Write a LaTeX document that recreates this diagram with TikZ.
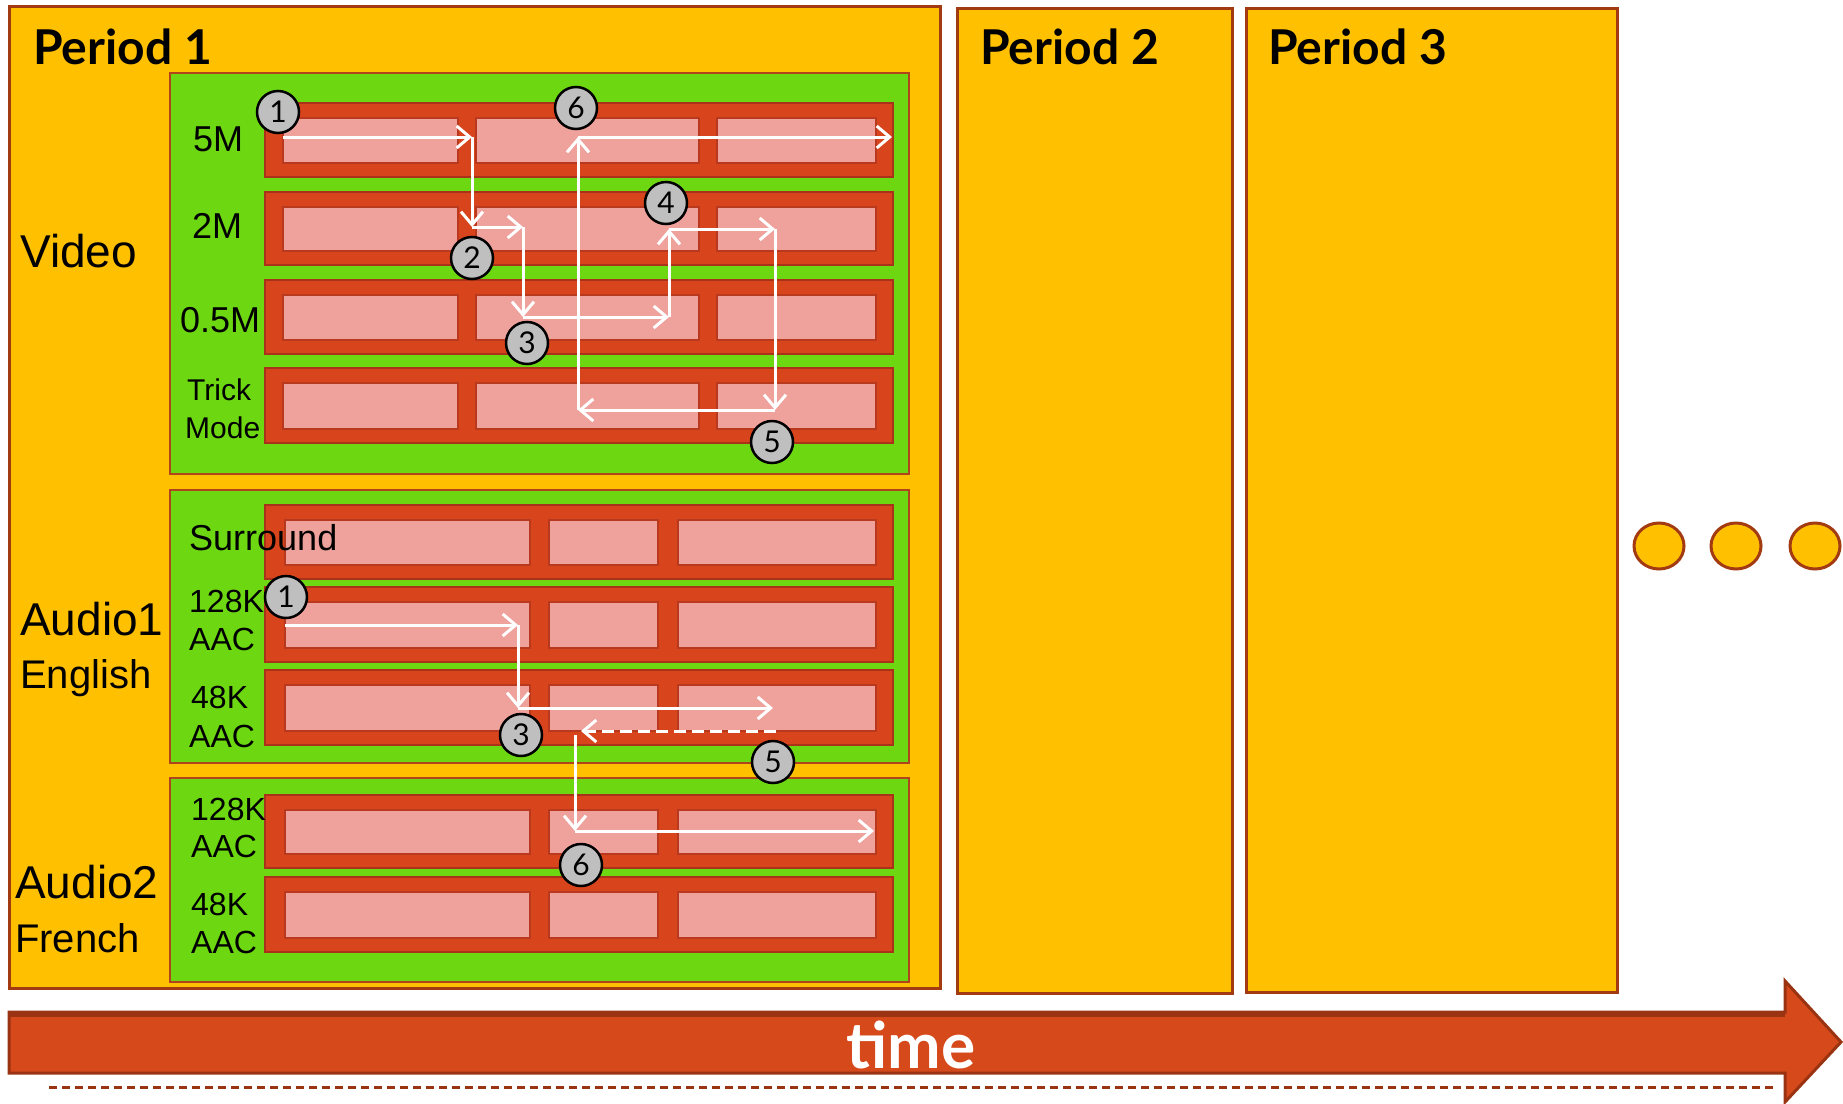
\documentclass[tikz,border=0pt]{standalone}
\usepackage{fontspec}
\setmainfont{Liberation Sans}
\newfontfamily\lato{Lato}
\usetikzlibrary{arrows.meta}
\definecolor{gold}{HTML}{FFC000}
\definecolor{goldedge}{HTML}{A33B12}
\definecolor{grn}{HTML}{6DD812}
\definecolor{grnedge}{HTML}{B0441A}
\definecolor{barred}{HTML}{D8441C}
\definecolor{baredge}{HTML}{A8321A}
\definecolor{pinkc}{HTML}{EFA19C}
\definecolor{pinkedge}{HTML}{B8391E}
\definecolor{timered}{HTML}{D5491B}
\definecolor{timeedge}{HTML}{993311}
\tikzset{
  period/.style={fill=gold,draw=goldedge,line width=3pt},
  grnbox/.style={fill=grn,draw=grnedge,line width=2.5pt},
  bar/.style={fill=barred,draw=baredge,line width=1.5pt},
  cell/.style={fill=pinkc,draw=pinkedge,line width=1.2pt},
  ptitle/.style={anchor=base west,inner sep=0pt,font=\lato\bfseries\fontsize{48}{50}\selectfont},
  lbl/.style={anchor=base west,inner sep=0pt,font=\fontsize{36}{38}\selectfont},
  slbl/.style={anchor=base west,inner sep=0pt,font=\fontsize{32}{34}\selectfont},
  tlbl/.style={anchor=base west,inner sep=0pt,font=\fontsize{30}{32}\selectfont},
  biglbl/.style={anchor=base west,inner sep=0pt,font=\fontsize{46}{48}\selectfont},
  medlbl/.style={anchor=base west,inner sep=0pt,font=\fontsize{40}{42}\selectfont},
  num/.style={circle,fill=black!25,draw=black,line width=2.5pt,minimum size=42pt,inner sep=0pt,
    font=\lato\fontsize{30}{30}\selectfont},
  flow/.style={draw=white,line width=3pt,-{Straight Barb[length=13pt,width=22pt]}},
  dflow/.style={flow,dash pattern=on 12pt off 6pt},
  dot/.style={fill=gold,draw=goldedge,line width=3pt}
}
\begin{document}
\begin{tikzpicture}[x=1pt,y=-1pt]
\useasboundingbox[fill=white] (0,0) rectangle (1843,1103);

% periods
\draw[period] (9,6) rectangle (940,988);
\draw[period] (957,8) rectangle (1232,993);
\draw[period] (1246,8) rectangle (1617,992);
\node[ptitle] (p1) at (33,64) {Period 1};
\node[ptitle] (p2) at (980,64) {Period 2};
\node[ptitle] (p3) at (1268,64) {Period 3};

% green boxes
\draw[grnbox] (170,73) rectangle (909,474);
\draw[grnbox] (170,490) rectangle (909,763);
\draw[grnbox] (170,778) rectangle (909,982);

% video rows
\foreach \t/\b in {103/177,192/265,280/354,368/443}{
  \draw[bar] (265,\t) rectangle (893,\b);
  \foreach \l/\r in {283/458,476/699,717/876}{
    \draw[cell] (\l,\t+15) rectangle (\r,\b-14);
  }
}
% audio rows
\foreach \t/\b in {505/579,587/662,670/745,795/868,877/952}{
  \draw[bar] (265,\t) rectangle (893,\b);
  \foreach \l/\r in {285/530,549/658,678/876}{
    \draw[cell] (\l,\t+15) rectangle (\r,\b-14);
  }
}

% labels
\node[biglbl] (video) at (20,267) {Video};
\node[lbl] (l5m) at (193,151) {5M};
\node[lbl] (l2m) at (192,238) {2M};
\node[lbl] (l05m) at (180,332) {0.5M};
\node[tlbl] (ltrick) at (187,400) {Trick};
\node[tlbl] (lmode) at (185,438) {Mode};
\node[lbl] (lsur) at (189,550) {Surround};
\node[slbl] (a128) at (189,612) {128K};
\node[slbl] (a128c) at (189,650) {AAC};
\node[slbl] (a48) at (191,708) {48K};
\node[slbl] (a48c) at (189,747) {AAC};
\node[biglbl] (aud1) at (20,635) {Audio1};
\node[medlbl] (eng) at (20,688) {English};
\node[biglbl] (aud2) at (15,898) {Audio2};
\node[medlbl] (fr) at (15,952) {French};
\node[slbl] (b128) at (191,820) {128K};
\node[slbl] (b128c) at (191,857) {AAC};
\node[slbl] (b48) at (191,915) {48K};
\node[slbl] (b48c) at (191,953) {AAC};

% video switching path
\coordinate (va) at (283,137);
\coordinate (vb) at (472,137);
\coordinate (vc) at (472,227);
\coordinate (vd) at (523,227);
\coordinate (ve) at (523,317);
\coordinate (vf) at (669,317);
\coordinate (vg) at (669,229);
\coordinate (vh) at (775,229);
\coordinate (vi) at (775,410);
\coordinate (vj) at (578,410);
\coordinate (vk) at (578,137);
\coordinate (vl) at (892,137);
\draw[flow] (va) -- (vb);
\draw[flow] (vb) -- (vc);
\draw[flow] (vc) -- (vd);
\draw[flow] (vd) -- (ve);
\draw[flow] (ve) -- (vf);
\draw[flow] (vf) -- (vg);
\draw[flow] (vg) -- (vh);
\draw[flow] (vh) -- (vi);
\draw[flow] (vi) -- (vj);
\draw[flow] (vj) -- (vk);
\draw[flow] (vk) -- (vl);

% audio switching path
\coordinate (aa) at (285,625);
\coordinate (ab) at (518,625);
\coordinate (ac) at (518,708);
\coordinate (ad) at (773,708);
\coordinate (ae) at (776,731);
\coordinate (af) at (581,731);
\coordinate (ag) at (575,735);
\coordinate (ah) at (575,831);
\coordinate (ai) at (874,831);
\draw[flow] (aa) -- (ab);
\draw[flow] (ab) -- (ac);
\draw[flow] (ac) -- (ad);
\draw[dflow] (ae) -- (af);
\draw[flow] (ag) -- (ah);
\draw[flow] (ah) -- (ai);

% numbered markers
\node[num] (n1) at (278,112) {1};
\node[num] (n2) at (472,258) {2};
\node[num] (n3) at (527,343) {3};
\node[num] (n4) at (666,203) {4};
\node[num] (n5) at (772,442) {5};
\node[num] (n6) at (576,108) {6};
\node[num] (m1) at (286,597) {1};
\node[num] (m3) at (521,735) {3};
\node[num] (m5) at (773,762) {5};
\node[num] (m6) at (581,865) {6};

% continuation dots
\draw[dot] (1659,546) ellipse [x radius=25, y radius=23];
\draw[dot] (1736,546) ellipse [x radius=25, y radius=23];
\draw[dot] (1815,546) ellipse [x radius=25, y radius=23];

% time arrow
\draw[fill=timered,draw=timeedge,line width=3pt,line join=miter]
  (9,1012) -- (1785,1012) -- (1785,981) -- (1841,1042) -- (1785,1102) -- (1785,1073) -- (9,1073) -- cycle;
\draw[timeedge,line width=5pt] (9,1014) -- (1785,1014);
\node[anchor=base,inner sep=0pt,text=white,font=\lato\bfseries\fontsize{64}{66}\selectfont] (time) at (911,1068) {time};
\draw[timeedge,line width=3pt,dash pattern=on 8pt off 5pt] (49,1087) -- (1777,1087);
\end{tikzpicture}
\end{document}
